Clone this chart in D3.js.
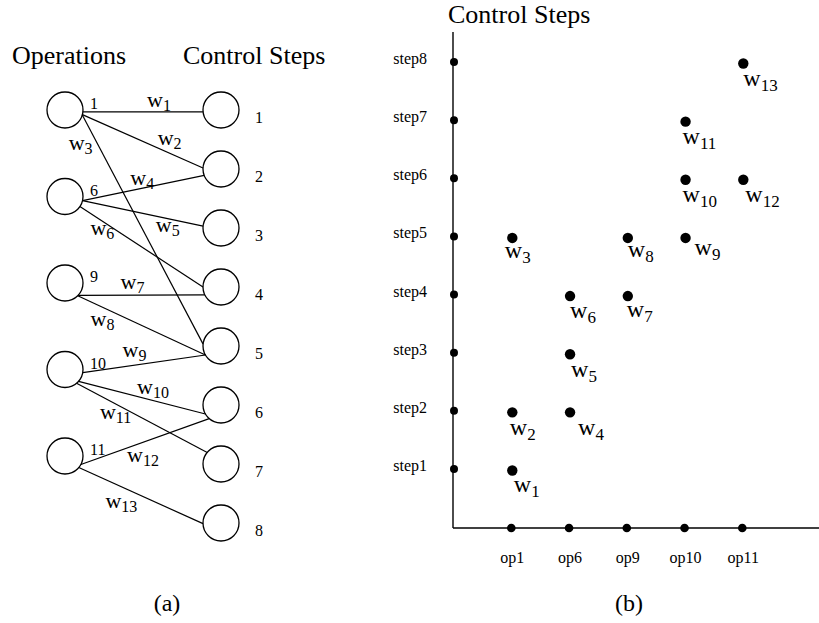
<!DOCTYPE html>
<html><head><meta charset="utf-8">
<script src="https://cdn.jsdelivr.net/npm/d3@7"></script>
<style>body{margin:0;background:#fff}svg{display:block}text{font-family:"Liberation Serif","Times New Roman",serif;fill:#000}</style>
</head><body><svg id="c" width="819" height="623"></svg>
<script>
// ---- data ----
const operations = [1, 6, 9, 10, 11];
const controlSteps = [1, 2, 3, 4, 5, 6, 7, 8];
const edgeNames = ["1","2","3","4","5","6","7","8","9","10","11","12","13"];
const edgeOps   = [1, 1, 1, 6, 6, 6, 9, 9, 10, 10, 10, 11, 11];
const edgeSteps = [1, 2, 5, 2, 3, 4, 4, 5, 5, 6, 7, 6, 8];
const opTickLabels = ["op1", "op6", "op9", "op10", "op11"];
const stepTickLabels = ["step1","step2","step3","step4","step5","step6","step7","step8"];
const titleLeftOps = "Operations";
const titleSteps = "Control Steps";

// ---- layout (hand-placed diagram details) ----
const startAngle = [6, 15, 16, 13, 13, 34, 43, 45, 10, 41, 50, 28, 40];
const endAngle = [174, 183, 186, 159, 186, 180, 154, 150, 150, 150, 220, 131, 178];
const labelOffA = [[4,-5],[15,3.5],[-74,-79.5],[-13,-2.5],[13,18.5],[-51,-11.5],[-21,-6.5],[-51,1],[-21.5,-6.5],[-5,-3.5],[-42,1],[-18,20],[-35.5,12.5]];
const labelOffB = [[1.5,21],[-2.5,23],[-7.5,20],[8,23],[1,23],[0,22],[-1,21],[0,19],[9,17],[-3,22],[-3,22],[2,22],[0,22]];

const svg = d3.select("#c");
const edges = edgeNames.map((n, i) => ({name: n, op: edgeOps[i], step: edgeSteps[i], i}));

// ===== Panel (a) =====
const R = 18;
const opX = 65, stX = 221;
const opY = d3.scalePoint().domain(operations).range([110, 456]);
const stY = d3.scalePoint().domain(controlSteps).range([110, 523]);
const gA = svg.append("g");

gA.append("text").attr("x", 12).attr("y", 64).attr("font-size", 26).text(titleLeftOps);
gA.append("text").attr("x", 183).attr("y", 64).attr("font-size", 26).text(titleSteps);

const rad = a => a * Math.PI / 180;
edges.forEach(e => {
  const a0 = rad(startAngle[e.i]), a1 = rad(endAngle[e.i]);
  e.x1 = opX + R * Math.cos(a0); e.y1 = opY(e.op) + R * Math.sin(a0);
  e.x2 = stX + R * Math.cos(a1); e.y2 = stY(e.step) + R * Math.sin(a1);
});

gA.selectAll("line.edge").data(edges).join("line").attr("class", "edge")
  .attr("x1", d => d.x1).attr("y1", d => d.y1).attr("x2", d => d.x2).attr("y2", d => d.y2)
  .attr("stroke", "#000").attr("stroke-width", 1.2);

gA.selectAll("circle.op").data(operations).join("circle").attr("class", "op")
  .attr("cx", opX).attr("cy", d => opY(d)).attr("r", R)
  .attr("fill", "none").attr("stroke", "#000").attr("stroke-width", 1.3);
gA.selectAll("circle.st").data(controlSteps).join("circle").attr("class", "st")
  .attr("cx", stX).attr("cy", d => stY(d)).attr("r", R)
  .attr("fill", "none").attr("stroke", "#000").attr("stroke-width", 1.3);

gA.selectAll("text.opn").data(operations).join("text").attr("class", "opn")
  .attr("x", opX + 25).attr("y", d => opY(d) - 1).attr("font-size", 16).text(d => d);
gA.selectAll("text.stn").data(controlSteps).join("text").attr("class", "stn")
  .attr("x", stX + 34).attr("y", d => stY(d) + 13).attr("font-size", 16).text(d => d);

function wLabel(g, x, y, sub, fs, subfs, shift) {
  const t = g.append("text").attr("x", x).attr("y", y).attr("font-size", fs);
  t.append("tspan").text("w");
  t.append("tspan").attr("font-size", subfs).attr("dy", shift).text(sub);
}
edges.forEach(e => {
  const mx = (e.x1 + e.x2) / 2, my = (e.y1 + e.y2) / 2;
  const o = labelOffA[e.i];
  wLabel(gA, mx + o[0], my + o[1], e.name, 22, 16, 4);
});

gA.append("text").attr("x", 167).attr("y", 611).attr("font-size", 24).attr("text-anchor", "middle").text("(a)");

// ===== Panel (b) =====
const gB = svg.append("g");
const x0 = 453, yAxis = 528;
const xB = d3.scalePoint().domain(operations).range([511.3, 742.3]);
const yB = d3.scalePoint().domain(controlSteps).range([469, 62]);

gB.append("text").attr("x", 448).attr("y", 23).attr("font-size", 26).text(titleSteps);

gB.append("line").attr("x1", x0).attr("x2", x0).attr("y1", 32).attr("y2", yAxis)
  .attr("stroke", "#000").attr("stroke-width", 1.4);
gB.append("line").attr("x1", x0).attr("x2", 819).attr("y1", yAxis).attr("y2", yAxis)
  .attr("stroke", "#000").attr("stroke-width", 1.4);

gB.selectAll("circle.sd").data(controlSteps).join("circle").attr("class", "sd")
  .attr("cx", x0 + 1).attr("cy", d => yB(d)).attr("r", 4).attr("fill", "#000");
gB.selectAll("text.sl").data(controlSteps).join("text").attr("class", "sl")
  .attr("x", 427).attr("y", d => yB(d) + 2).attr("text-anchor", "end").attr("font-size", 16)
  .text((d, i) => stepTickLabels[i]);

gB.selectAll("circle.od").data(operations).join("circle").attr("class", "od")
  .attr("cx", d => xB(d)).attr("cy", yAxis).attr("r", 4.3).attr("fill", "#000");
gB.selectAll("text.ol").data(operations).join("text").attr("class", "ol")
  .attr("x", d => xB(d) + 1).attr("y", 563).attr("text-anchor", "middle").attr("font-size", 16)
  .text((d, i) => opTickLabels[i]);

gB.selectAll("circle.pt").data(edges).join("circle").attr("class", "pt")
  .attr("cx", d => xB(d.op) + 1).attr("cy", d => yB(d.step) + 1.5).attr("r", 5.2).attr("fill", "#000");
edges.forEach(e => {
  const o = labelOffB[e.i];
  wLabel(gB, xB(e.op) + 1 + o[0], yB(e.step) + 1.5 + o[1], e.name, 24, 17, 5);
});

gB.append("text").attr("x", 629).attr("y", 611).attr("font-size", 24).attr("text-anchor", "middle").text("(b)");
</script></body></html>
